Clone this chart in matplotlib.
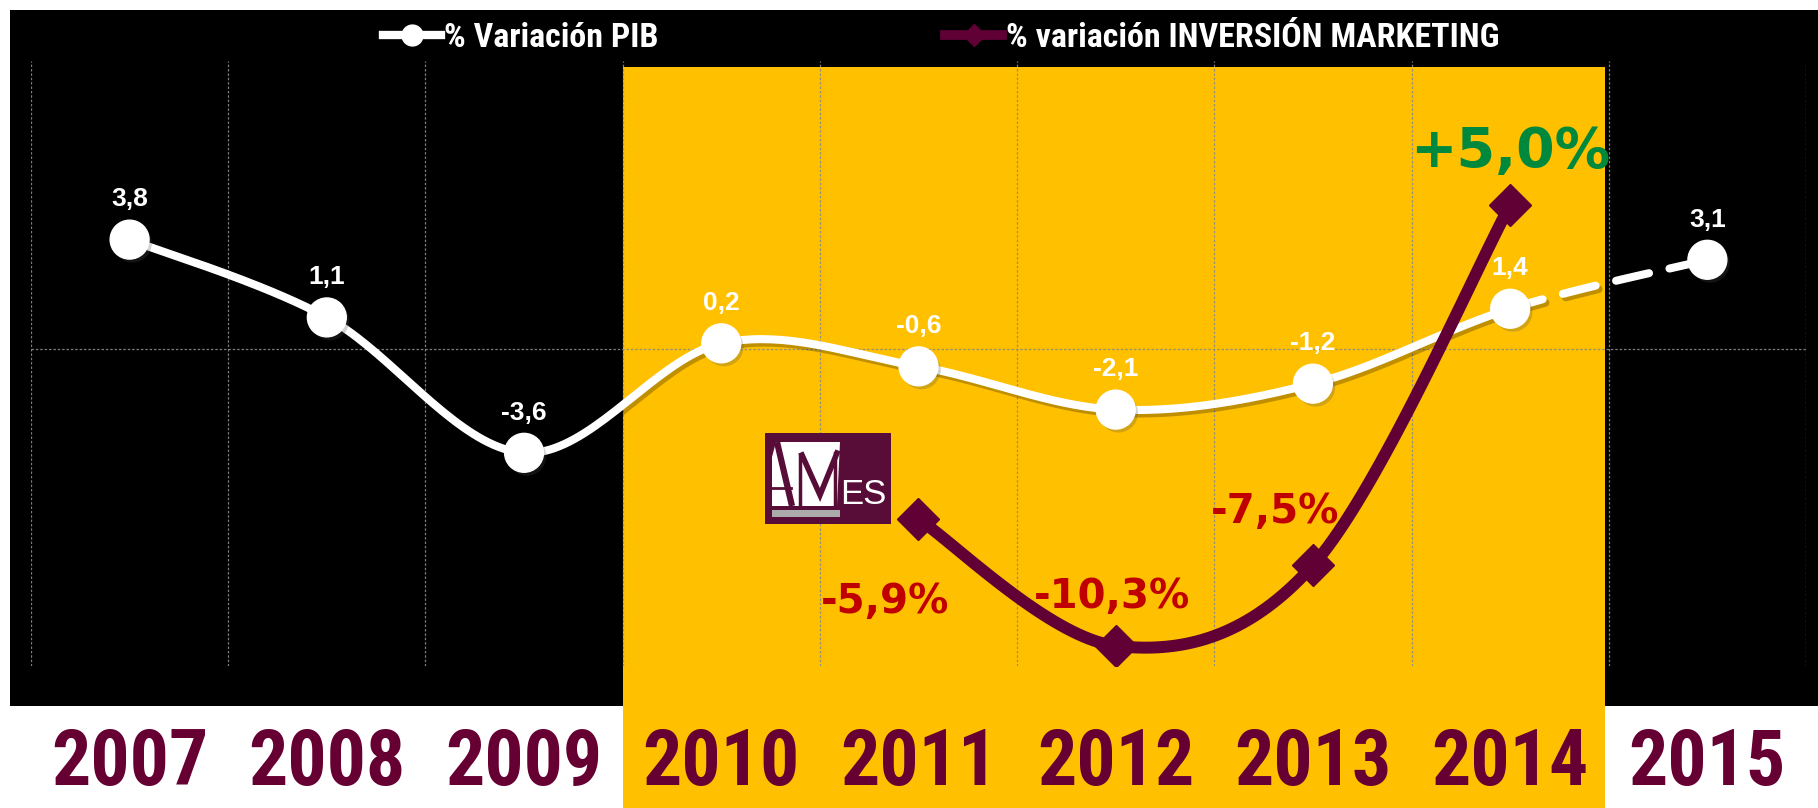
import numpy as np
import matplotlib
matplotlib.use("Agg")
import matplotlib.pyplot as plt
from matplotlib import font_manager, transforms
from matplotlib.lines import Line2D
from matplotlib.patches import Rectangle, Polygon
import matplotlib.patheffects as pe

# ---------------- data ----------------
years = ['2007', '2008', '2009', '2010', '2011', '2012', '2013', '2014', '2015']
pib = [3.8, 1.1, -3.6, 0.2, -0.6, -2.1, -1.2, 1.4, 3.1]
marketing = [None, None, None, None, -5.9, -10.3, -7.5, 5.0, None]
highlight = ('2010', '2014')
series_names = ['% Variación PIB', '% variación INVERSIÓN MARKETING']

# ---------------- fonts ----------------
avail = {f.name for f in font_manager.fontManager.ttflist}
def pick(*names):
    for n in names:
        if n in avail:
            return n
    return 'DejaVu Sans'
NARROW = pick('Liberation Sans Narrow', 'Roboto Condensed', 'Liberation Sans')
ARIAL = pick('Liberation Sans', 'DejaVu Sans')
VERD = 'DejaVu Sans'

BLACK = '#000000'
YELLOW = '#FFC000'
MAROON = '#600034'
YEARC = '#660033'
RED = '#C00000'
GREEN = '#00893D'
LOGO = '#570D37'

W, H = 1818, 808
fig = plt.figure(figsize=(W / 100, H / 100), dpi=100, facecolor='white')

def fx(px):
    return px / W
def fy(py):
    return 1 - py / H

# axes: x 31..1806, y 61..666 (pixels from top)
ax = fig.add_axes([fx(31), fy(666), fx(1806 - 31), (666 - 61) / H])
ax.set_facecolor('none')
n = len(years)
xs = np.arange(n)
ax.set_xlim(-0.5, n - 0.5)
ax.set_ylim(-11.0, 10.0)

# background black panel and highlight band
fig.add_artist(Rectangle((fx(10), fy(706)), fx(1808), 696 / H, transform=fig.transFigure,
                         facecolor=BLACK, edgecolor='none', zorder=-3))
i0, i1 = years.index(highlight[0]), years.index(highlight[1])
blend = transforms.blended_transform_factory(ax.transData, fig.transFigure)
fig.add_artist(Rectangle((i0 - 0.5, 0), (i1 - i0 + 1) - 0.02, fy(67), transform=blend,
                         facecolor=YELLOW, edgecolor='none', zorder=-2))

# grid
ax.set_xticks(xs)
ax.set_xticklabels(years, fontsize=56, fontweight='bold', color=YEARC, family=NARROW)
ax.set_xticks(np.arange(-0.5, n, 1.0), minor=True)
ax.tick_params(axis='x', which='both', length=0, pad=44)
ax.set_yticks([0])
ax.set_yticklabels([])
ax.tick_params(axis='y', length=0)
ax.grid(True, which='minor', axis='x', color='#8a8a8a', lw=0.9, ls=(0, (2, 1.5)), alpha=0.9)
ax.grid(True, which='major', axis='y', color='#8a8a8a', lw=0.9, ls=(0, (2, 1.5)), alpha=0.9)
ax.grid(False, which='major', axis='x')
for s in ax.spines.values():
    s.set_visible(False)

# smoothing (Catmull-Rom style Bezier, like spreadsheet smoothed lines)
def smooth_segments(x, y, m=40):
    P = np.column_stack([x, y]).astype(float)
    Q = np.vstack([P[0], P, P[-1]])
    segs = []
    for i in range(len(P) - 1):
        p0, p1, p2, p3 = Q[i], Q[i + 1], Q[i + 2], Q[i + 3]
        c1 = p1 + (p2 - p0) / 6.0
        c2 = p2 - (p3 - p1) / 6.0
        t = np.linspace(0, 1, m)[:, None]
        b = ((1 - t) ** 3) * p1 + 3 * ((1 - t) ** 2) * t * c1 + 3 * (1 - t) * t ** 2 * c2 + t ** 3 * p2
        segs.append(b)
    return segs

shadow = [pe.SimpleLineShadow(offset=(2, -2.5), shadow_color='#000000', alpha=0.25), pe.Normal()]

pib_segs = smooth_segments(xs, pib)
solid = np.vstack(pib_segs[:-1])
ax.plot(solid[:, 0], solid[:, 1], color='white', lw=5.8, solid_capstyle='round',
        zorder=3, path_effects=shadow)
dash = pib_segs[-1]
ax.plot(dash[:, 0], dash[:, 1], color='white', lw=5.8, ls=(0, (4.2, 2.6)),
        dash_capstyle='round', zorder=3, path_effects=shadow)
ax.plot(xs, pib, ls='none', marker='o', ms=28, color='white', mec='white', zorder=4,
        path_effects=[pe.SimplePatchShadow(offset=(2, -2.5), alpha=0.25), pe.Normal()])

for x, v in zip(xs, pib):
    ax.annotate(f"{v:.1f}".replace('.', ','), (x, v), xytext=(0, 29), textcoords='offset points',
                ha='center', va='center', color='white', fontsize=19, fontweight='bold',
                family=ARIAL, zorder=6)

# marketing series
mk_x = np.array([x for x, v in zip(xs, marketing) if v is not None])
mk_y = np.array([v for v in marketing if v is not None])
mk = np.vstack(smooth_segments(mk_x, mk_y))
ax.plot(mk[:, 0], mk[:, 1], color=MAROON, lw=8.6, solid_capstyle='butt', zorder=7)
ax.plot(mk_x, mk_y, ls='none', marker='D', ms=21, color=MAROON, zorder=8)

mk_offsets = [(-24, -60), (-3, 35), (-27, 38), (0, 38)]
for (x, v), off in zip(zip(mk_x, mk_y), mk_offsets):
    lab = f"{v:+.1f}%".replace('.', ',') if v > 0 else f"{v:.1f}%".replace('.', ',')
    big = v > 0
    ax.annotate(lab, (x, v), xytext=off, textcoords='offset points', ha='center', va='center',
                color=GREEN if big else RED, fontsize=40 if big else 29, fontweight='bold',
                family=VERD, zorder=9)

# legend
h1 = Line2D([], [], color='white', lw=6, marker='o', ms=15, mfc='white', mec='white')
h2 = Line2D([], [], color=MAROON, lw=7, marker='D', ms=11, mfc=MAROON, mec=MAROON)
leg = fig.legend([h1, h2], series_names, loc='center left', bbox_to_anchor=(fx(383), fy(38)),
                 ncol=2, frameon=False, handlelength=1.7, handletextpad=0.1, columnspacing=8.4,
                 borderpad=0, borderaxespad=0, numpoints=1,
                 prop=dict(family=NARROW, weight='bold', size=24.5))
for t in leg.get_texts():
    t.set_color('white')

# logo
lx0, ly0, lw_, lh_ = 765, 433, 126, 91
lax = fig.add_axes([fx(lx0), fy(ly0 + lh_), fx(lw_), lh_ / H])
lax.set_xlim(0, lw_)
lax.set_ylim(lh_, 0)
lax.axis('off')
lax.add_patch(Rectangle((0, 0), lw_, lh_, facecolor=LOGO, edgecolor='none'))
lax.add_patch(Polygon([(11, 9), (75, 9), (72, 73), (7, 73), (7, 24)], closed=True,
                      facecolor='white', edgecolor='none'))
lax.plot([12, 27], [9, 73], color=LOGO, lw=4.5, solid_capstyle='butt')
lax.plot([7, 26], [55, 55], color=LOGO, lw=2.0)
lax.plot([35, 35], [22, 73], color=LOGO, lw=2.5)
lax.plot([37, 55, 72], [22, 62, 20], color=LOGO, lw=4.0, solid_joinstyle='miter')
lax.plot([70, 70], [20, 73], color=LOGO, lw=2.5)
lax.add_patch(Rectangle((7, 77), 68, 7, facecolor='#ABABAB', edgecolor='none'))
lax.text(98, 61, 'ES', color='white', fontsize=25, family=ARIAL, ha='center', va='center')

fig.savefig('out.png', dpi=100, facecolor='white')
